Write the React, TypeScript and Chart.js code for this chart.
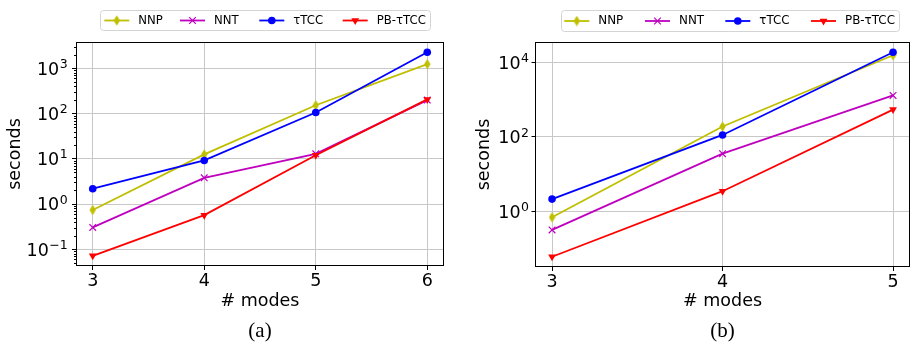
import React, { useEffect, useRef } from 'react';
import { Chart, registerables } from 'chart.js';

Chart.register(...registerables);

// ---------- data ----------
const seriesNames = ['NNP', 'NNT', 'τTCC', 'PB-τTCC'];
const seriesColors = ['#bfbf00', '#bf00bf', '#0000ff', '#ff0000'];
const seriesMarkers = ['thinDiamond', 'crossRot', 'circle', 'triangleDown'];

const modesA = [3, 4, 5, 6];
const nnpA = [0.74, 12.5, 152, 1230];
const nntA = [0.305, 3.8, 12.9, 198];
const ttccA = [2.18, 9.2, 105, 2260];
const pbA = [0.072, 0.57, 12, 205];
const yTicksA = [0.1, 1, 10, 100, 1000];
const yTickExpA = ['−1', '0', '1', '2', '3'];

const modesB = [3, 4, 5];
const nnpB = [0.7, 190, 15500];
const nntB = [0.32, 35.6, 1300];
const ttccB = [2.15, 113, 18700];
const pbB = [0.061, 3.5, 540];
const yTicksB = [1, 100, 10000];
const yTickExpB = ['0', '2', '4'];

const yTickBase = '10';
const xTitle = '# modes';
const yTitle = 'seconds';
const captions = ['(a)', '(b)'];

// ---------- helpers ----------
const SANS = "'DejaVu Sans', sans-serif";
const SERIF = "'Liberation Serif', serif";
const TICK_SIZE = 17.5;
const EXP_SIZE = 12.5;

function makeDiamond(color: string) {
  const c = document.createElement('canvas');
  c.width = 7;
  c.height = 11;
  const g = c.getContext('2d')!;
  g.fillStyle = color;
  g.strokeStyle = color;
  g.lineWidth = 1;
  g.beginPath();
  g.moveTo(3.5, 0.3);
  g.lineTo(6.7, 5.5);
  g.lineTo(3.5, 10.7);
  g.lineTo(0.3, 5.5);
  g.closePath();
  g.fill();
  return c;
}

function drawMarker(ctx: CanvasRenderingContext2D, kind: string, x: number, y: number, color: string, diamond: HTMLCanvasElement) {
  ctx.save();
  ctx.fillStyle = color;
  ctx.strokeStyle = color;
  if (kind === 'circle') {
    ctx.beginPath();
    ctx.arc(x, y, 3.8, 0, Math.PI * 2);
    ctx.fill();
  } else if (kind === 'crossRot') {
    const d = 3.3;
    ctx.lineWidth = 1.2;
    ctx.beginPath();
    ctx.moveTo(x - d, y - d);
    ctx.lineTo(x + d, y + d);
    ctx.moveTo(x - d, y + d);
    ctx.lineTo(x + d, y - d);
    ctx.stroke();
  } else if (kind === 'triangleDown') {
    const r = 4.5;
    ctx.beginPath();
    ctx.moveTo(x, y + r);
    ctx.lineTo(x - r * Math.sin(Math.PI / 3), y - r / 2);
    ctx.lineTo(x + r * Math.sin(Math.PI / 3), y - r / 2);
    ctx.closePath();
    ctx.fill();
  } else {
    ctx.drawImage(diamond, x - diamond.width / 2, y - diamond.height / 2);
  }
  ctx.restore();
}

function logRange(values: number[]) {
  const logs = values.map((v) => Math.log10(v));
  const lo = Math.min(...logs);
  const hi = Math.max(...logs);
  const m = (hi - lo) * 0.05;
  return [Math.pow(10, lo - m), Math.pow(10, hi + m)];
}

interface PanelSpec {
  modes: number[];
  series: number[][];
  yTicks: number[];
  yTickExp: string[];
  caption: string;
  padRight: number;
  yAxisWidth: number;
  xAxisHeight: number;
  yTitlePad: number;
  yTickLen: number;
  yLabelGap: number;
  minorTicks: boolean;
  legendBox: [number, number, number, number];
  legendItemX: number[];
  legendFont: number;
}

function buildChart(canvas: HTMLCanvasElement, spec: PanelSpec) {
  const diamond = makeDiamond(seriesColors[0]);
  const [ymin, ymax] = logRange(spec.series.flat());
  const xr = spec.modes[spec.modes.length - 1] - spec.modes[0];
  const xmin = spec.modes[0] - xr * 0.05;
  const xmax = spec.modes[spec.modes.length - 1] + xr * 0.05;

  const datasets = spec.series.map((vals, si) => {
    const kind = seriesMarkers[si];
    const color = seriesColors[si];
    return {
      label: seriesNames[si],
      data: spec.modes.map((m, i) => ({ x: m, y: vals[i] })),
      borderColor: color,
      backgroundColor: color,
      borderWidth: 1.8,
      tension: 0,
      order: 3 - si,
      pointStyle: kind === 'thinDiamond' ? diamond : kind === 'triangleDown' ? 'triangle' : kind,
      pointRotation: kind === 'triangleDown' ? 180 : 0,
      pointRadius: kind === 'circle' ? 3.8 : kind === 'crossRot' ? 4.7 : 4.5,
      pointBorderWidth: kind === 'crossRot' ? 1.2 : 0,
      pointBorderColor: color,
      pointBackgroundColor: color,
    };
  });

  const decor = {
    id: 'decor',
    afterDraw(chart: any) {
      const ctx: CanvasRenderingContext2D = chart.ctx;
      const a = chart.chartArea;
      ctx.save();
      // frame
      ctx.strokeStyle = '#000';
      ctx.lineWidth = 1;
      const L = Math.round(a.left) + 0.5;
      const R = Math.round(a.right) - 0.5;
      const T = Math.round(a.top) + 0.5;
      const B = Math.round(a.bottom) - 0.5;
      ctx.strokeRect(L, T, R - L, B - T);
      const ys = chart.scales.y;
      // minor ticks
      if (spec.minorTicks) {
        ctx.beginPath();
        for (let n = Math.floor(Math.log10(ymin)); n <= Math.ceil(Math.log10(ymax)); n++) {
          for (let k = 2; k <= 9; k++) {
            const v = k * Math.pow(10, n);
            if (v < ymin || v > ymax) continue;
            const py = Math.round(ys.getPixelForValue(v)) + 0.5;
            ctx.moveTo(L - 2.5, py);
            ctx.lineTo(L, py);
          }
        }
        ctx.stroke();
      }
      // y tick labels: 10 with superscript exponent
      ctx.fillStyle = '#000';
      ctx.textBaseline = 'alphabetic';
      ctx.textAlign = 'left';
      const rightEdge = a.left - spec.yLabelGap;
      spec.yTicks.forEach((v, i) => {
        const py = ys.getPixelForValue(v);
        ctx.font = `${EXP_SIZE}px ${SANS}`;
        const ew = ctx.measureText(spec.yTickExp[i]).width;
        ctx.font = `${TICK_SIZE}px ${SANS}`;
        const bw = ctx.measureText(yTickBase).width;
        const baseY = py + TICK_SIZE * 0.3645;
        const x0 = rightEdge - ew - bw - 0.5;
        ctx.fillText(yTickBase, x0, baseY);
        ctx.font = `${EXP_SIZE}px ${SANS}`;
        ctx.fillText(spec.yTickExp[i], x0 + bw + 0.5, baseY - 6.7);
      });
      // legend
      const [bx, by, bw, bh] = spec.legendBox;
      ctx.fillStyle = 'rgba(255,255,255,0.85)';
      ctx.strokeStyle = '#d4d4d4';
      ctx.lineWidth = 1;
      ctx.beginPath();
      (ctx as any).roundRect(bx + 0.5, by + 0.5, bw, bh, 3);
      ctx.fill();
      ctx.stroke();
      const cy = by + bh / 2 + 0.5;
      ctx.font = `${spec.legendFont}px ${SANS}`;
      ctx.textBaseline = 'middle';
      ctx.textAlign = 'left';
      seriesNames.forEach((name, si) => {
        const hx = spec.legendItemX[si];
        const color = seriesColors[si];
        ctx.strokeStyle = color;
        ctx.lineWidth = 1.8;
        ctx.beginPath();
        ctx.moveTo(hx, cy);
        ctx.lineTo(hx + 25, cy);
        ctx.stroke();
        drawMarker(ctx, seriesMarkers[si], hx + 12.5, cy, color, diamond);
        ctx.fillStyle = '#000';
        ctx.fillText(name, hx + 34, cy);
      });
      // caption
      ctx.font = `21px ${SERIF}`;
      ctx.textAlign = 'center';
      ctx.textBaseline = 'alphabetic';
      ctx.fillStyle = '#000';
      ctx.fillText(spec.caption, (a.left + a.right) / 2, 337);
      ctx.restore();
    },
  };

  return new Chart(canvas, {
    type: 'line',
    data: { datasets: datasets as any },
    options: {
      responsive: false,
      animation: false,
      devicePixelRatio: 1,
      layout: { padding: { left: 0, right: spec.padRight, top: 42, bottom: 0 } },
      plugins: { legend: { display: false }, tooltip: { enabled: false } },
      scales: {
        x: {
          type: 'linear',
          min: xmin,
          max: xmax,
          afterBuildTicks: (s: any) => {
            s.ticks = spec.modes.map((v) => ({ value: v }));
          },
          afterFit: (s: any) => {
            s.height = spec.xAxisHeight;
          },
          ticks: {
            callback: (v: any) => String(v),
            font: { family: SANS, size: TICK_SIZE },
            color: '#000',
            padding: 1,
            maxRotation: 0,
            autoSkip: false,
          },
          grid: { color: '#c8c8c8', lineWidth: 1, tickColor: '#000', tickLength: 4 },
          border: { display: false },
          title: {
            display: true,
            text: xTitle,
            font: { family: SANS, size: TICK_SIZE },
            color: '#000',
            padding: { top: 0, bottom: 34 },
          },
        },
        y: {
          type: 'logarithmic',
          min: ymin,
          max: ymax,
          afterBuildTicks: (s: any) => {
            s.ticks = spec.yTicks.map((v) => ({ value: v }));
          },
          afterFit: (s: any) => {
            s.width = spec.yAxisWidth;
          },
          ticks: { display: false, autoSkip: false },
          grid: { color: '#c8c8c8', lineWidth: 1, tickColor: '#000', tickLength: spec.yTickLen },
          border: { display: false },
          title: {
            display: true,
            text: yTitle,
            font: { family: SANS, size: TICK_SIZE },
            color: '#000',
            padding: { top: spec.yTitlePad, bottom: 0 },
          },
        },
      },
    },
    plugins: [decor],
  } as any);
}

const panelA: PanelSpec = {
  modes: modesA,
  series: [nnpA, nntA, ttccA, pbA],
  yTicks: yTicksA,
  yTickExp: yTickExpA,
  caption: captions[0],
  padRight: 14,
  yAxisWidth: 76,
  xAxisHeight: 80,
  yTitlePad: 5,
  yTickLen: 4,
  yLabelGap: 8.3,
  minorTicks: true,
  legendBox: [100, 10, 330, 20],
  legendItemX: [104.3, 180, 259.3, 342.7],
  legendFont: 11.7,
};

const panelB: PanelSpec = {
  modes: modesB,
  series: [nnpB, nntB, ttccB, pbB],
  yTicks: yTicksB,
  yTickExp: yTickExpB,
  caption: captions[1],
  padRight: 3,
  yAxisWidth: 77,
  xAxisHeight: 79,
  yTitlePad: 16,
  yTickLen: 3.5,
  yLabelGap: 6,
  minorTicks: false,
  legendBox: [103, 10, 338, 21],
  legendItemX: [106.3, 187, 267.3, 353],
  legendFont: 11.9,
};

function Panel({ spec, left }: { spec: PanelSpec; left: number }) {
  const ref = useRef<HTMLCanvasElement>(null);
  useEffect(() => {
    const chart = buildChart(ref.current!, spec);
    return () => chart.destroy();
  }, [spec]);
  return (
    <canvas
      ref={ref}
      width={458}
      height={346}
      style={{ position: 'absolute', left, top: 0, width: 458, height: 346 }}
    />
  );
}

export default function App() {
  return (
    <div style={{ position: 'fixed', left: 0, top: 0, width: 916, height: 346, background: '#fff' }}>
      <Panel spec={panelA} left={0} />
      <Panel spec={panelB} left={458} />
    </div>
  );
}
